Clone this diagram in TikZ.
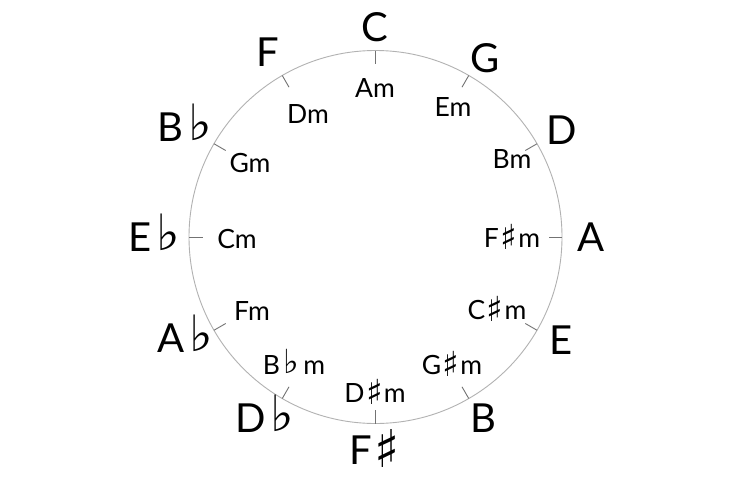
\documentclass[tikz,border=0pt]{standalone}
\usepackage{fontspec}
\usepackage{graphicx}
\setmainfont{Lato}
\newfontfamily\symfont{DejaVu Sans}
\newcommand{\myflat}{\kern0.12em\raisebox{0.02em}{\scalebox{1.25}{\symfont ♭}}}
\newcommand{\mysharp}{\kern0.06em\raisebox{-0.08em}{\scalebox{1.3}{\symfont ♯}}\kern0.04em}
\tikzset{
  ring/.style={draw=black!30, line width=0.9pt},
  ticks/.style={draw=black!55, line width=0.9pt},
  major/.style={font=\fontsize{40}{40}\selectfont, anchor=base, inner sep=0pt, text=black},
  minor/.style={font=\fontsize{26.5}{27}\selectfont, anchor=base, inner sep=0pt, text=black},
}
\begin{document}
\begin{tikzpicture}[x=1pt,y=-1pt]
\useasboundingbox[fill=white] (0,0) rectangle (750,479);
\coordinate (ctr) at (375.5,237);
\draw[ring] (ctr) circle[radius=186.5];
\foreach \a in {0,30,...,330}
  \draw[ticks, shift={(375.5,237)}] (\a:186.5) -- (\a:173);
% major keys (outer)
\node[major] (kC)  at (375,41.5)  {C};
\node[major] (kG)  at (485,72.5)  {G};
\node[major] (kD)  at (562,144.5) {D};
\node[major] (kA)  at (591,251.5) {A};
\node[major] (kE)  at (561,354.5) {E};
\node[major] (kB)  at (483,432.5) {B};
\node[major] (kFs) at (375,464.5) {F\mysharp};
\node[major] (kDb) at (265,432.5) {D\myflat};
\node[major] (kAb) at (185,352.5) {A\myflat};
\node[major] (kEb) at (154,251.5) {E\myflat};
\node[major] (kBb) at (185,141.5) {B\myflat};
\node[major] (kF)  at (268,66.5)  {F};
% minor keys (inner)
\node[minor] (mA)  at (375,97)  {Am};
\node[minor] (mE)  at (453,116) {Em};
\node[minor] (mB)  at (512,168) {Bm};
\node[minor] (mFs) at (512,247) {F\mysharp m};
\node[minor] (mCs) at (497,319) {C\mysharp m};
\node[minor] (mGs) at (452,374) {G\mysharp m};
\node[minor] (mDs) at (375,402) {D\mysharp m};
\node[minor] (mBb) at (294,374) {B\myflat\,m};
\node[minor] (mF)  at (252,320) {Fm};
\node[minor] (mC)  at (237,248) {Cm};
\node[minor] (mG)  at (250,172) {Gm};
\node[minor] (mD)  at (308,123) {Dm};
\end{tikzpicture}
\end{document}
